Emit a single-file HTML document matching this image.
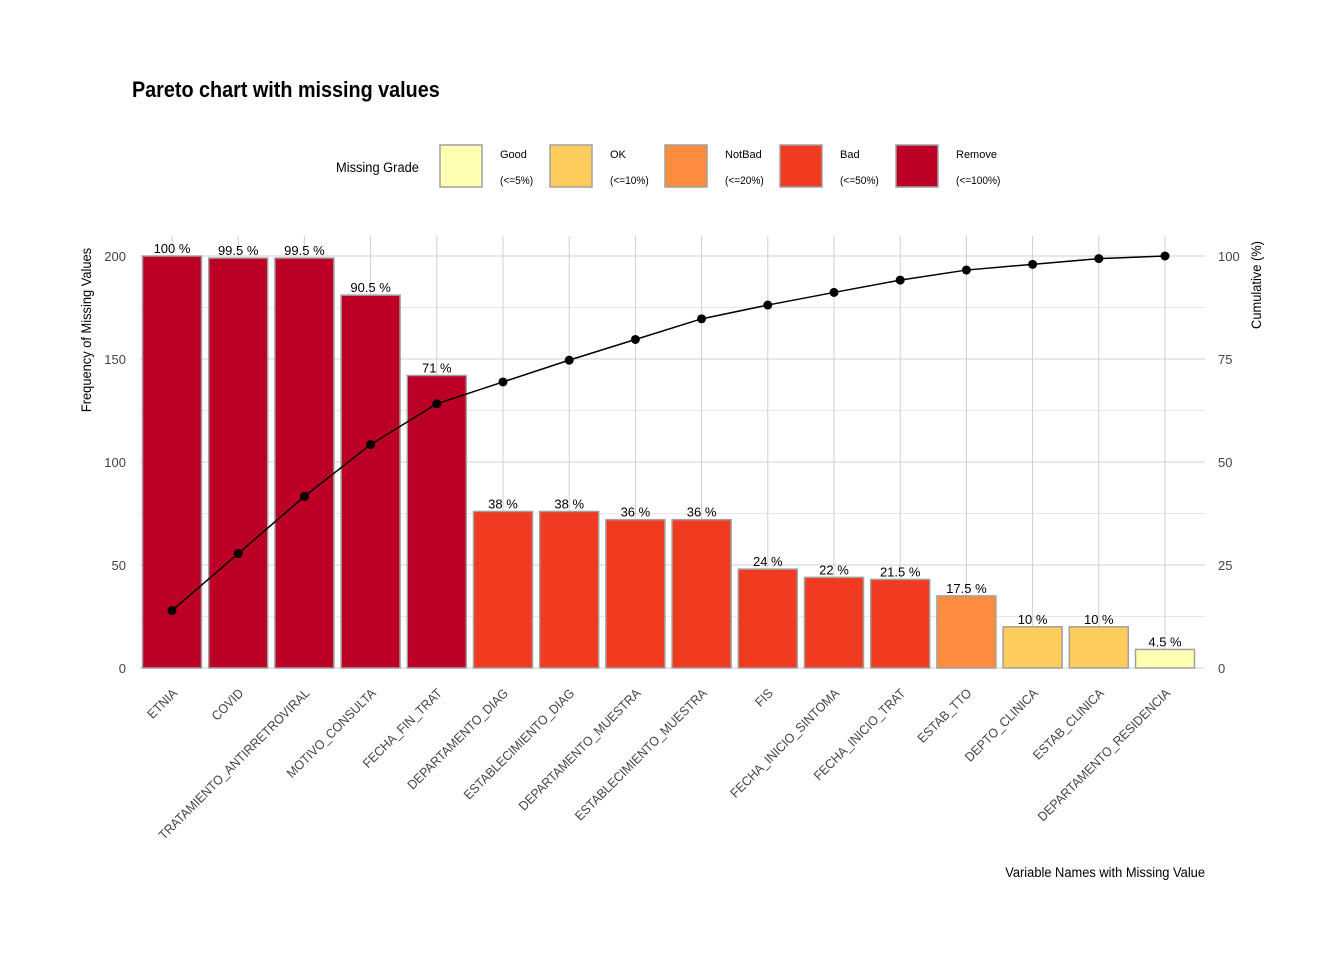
<!DOCTYPE html>
<html><head><meta charset="utf-8">
<style>
body{margin:0;background:#fff;}
svg{font-family:"Liberation Sans",sans-serif;}
</style></head>
<body>
<svg id="chart" width="1344" height="960" viewBox="0 0 1344 960" xmlns="http://www.w3.org/2000/svg">
<rect width="1344" height="960" fill="#fff"/>
<text x="132" y="97" font-size="22" font-weight="bold" fill="#000" transform="translate(132 0) scale(0.9 1) translate(-132 0)">Pareto chart with missing values</text>
<g id="legend"></g>
<g id="grid"></g>
<g id="bars"></g>
<g id="line"></g>
<g id="axes"></g>
<text transform="translate(91 330) rotate(-90) scale(0.92 1)" text-anchor="middle" font-size="14" fill="#000">Frequency of Missing Values</text>
<text transform="translate(1261 285) rotate(-90) scale(0.92 1)" text-anchor="middle" font-size="14" fill="#000">Cumulative (%)</text>
<text x="1205" y="877" text-anchor="end" font-size="14" fill="#000" transform="translate(1205 0) scale(0.92 1) translate(-1205 0)">Variable Names with Missing Value</text>
</svg>
<script>
const categories=["ETNIA","COVID","TRATAMIENTO_ANTIRRETROVIRAL","MOTIVO_CONSULTA","FECHA_FIN_TRAT","DEPARTAMENTO_DIAG","ESTABLECIMIENTO_DIAG","DEPARTAMENTO_MUESTRA","ESTABLECIMIENTO_MUESTRA","FIS","FECHA_INICIO_SINTOMA","FECHA_INICIO_TRAT","ESTAB_TTO","DEPTO_CLINICA","ESTAB_CLINICA","DEPARTAMENTO_RESIDENCIA"];
const missingCounts=[200,199,199,181,142,76,76,72,72,48,44,43,35,20,20,9];
const barLabels=["100 %","99.5 %","99.5 %","90.5 %","71 %","38 %","38 %","36 %","36 %","24 %","22 %","21.5 %","17.5 %","10 %","10 %","4.5 %"];
const leftTicks=[0,50,100,150,200];
const rightTicks=[0,25,50,75,100];
const gradeNames=["Good","OK","NotBad","Bad","Remove"];
const gradeRanges=["(<=5%)","(<=10%)","(<=20%)","(<=50%)","(<=100%)"];
const gradeColors=["#FFFFB2","#FECC5C","#FD8D3C","#F03B20","#BD0026"];
const gradeLimits=[5,10,20,50,100];

const NS="http://www.w3.org/2000/svg";
function mk(parent,tag,attrs,text){const e=document.createElementNS(NS,tag);for(const k in attrs)e.setAttribute(k,attrs[k]);if(text!==undefined)e.textContent=text;parent.appendChild(e);return e;}
const x0=172,step=66.2,bw=59,panelL=140,panelR=1205,yBase=668,yTop=256;
const xPos=i=>x0+i*step;
const yL=v=>yBase-v/200*(yBase-yTop);
const yR=v=>yBase-v/100*(yBase-yTop);
const total=missingCounts.reduce((a,b)=>a+b,0);

const grid=document.getElementById('grid');
for(let v=0;v<=200;v+=25){const l=mk(grid,'line',{x1:panelL,x2:panelR,y1:yL(v),y2:yL(v),stroke:'#d0d0d0','stroke-width':v%50===0?1:0.6});
}
categories.forEach((c,i)=>{const l=mk(grid,'line',{x1:xPos(i),x2:xPos(i),y1:236,y2:yBase,stroke:'#d0d0d0','stroke-width':1});
});

const bars=document.getElementById('bars');
categories.forEach((c,i)=>{const v=missingCounts[i];const pct=v/200*100;let g=gradeLimits.findIndex(t=>pct<=t);if(g<0)g=4;
const r=mk(bars,'rect',{x:xPos(i)-bw/2,y:yL(v),width:bw,height:yBase-yL(v),fill:gradeColors[g],stroke:'#a0a0a0','stroke-width':1.5});

const t=mk(bars,'text',{x:xPos(i),y:yL(v)-3,'text-anchor':'middle','font-size':13,fill:'#000'},barLabels[i]);
});

const line=document.getElementById('line');
let cum=0;const pts=missingCounts.map((v,i)=>{cum+=v;return [xPos(i),yR(cum/total*100)];});
const p=mk(line,'polyline',{points:pts.map(q=>q.join(',')).join(' '),fill:'none',stroke:'#000','stroke-width':1.5});

pts.forEach(q=>{const c=mk(line,'circle',{cx:q[0],cy:q[1],r:4.5,fill:'#000'});
});

const axes=document.getElementById('axes');
leftTicks.forEach(v=>{const t=mk(axes,'text',{x:126,y:yL(v)+5,'text-anchor':'end','font-size':13,fill:'#444'},v);
});
rightTicks.forEach(v=>{const t=mk(axes,'text',{x:1218,y:yR(v)+5,'font-size':13,fill:'#444'},v);
});
categories.forEach((c,i)=>{const x=xPos(i)+6,y=694;const t=mk(axes,'text',{x:0,y:0,'text-anchor':'end','font-size':13,fill:'#444',transform:`translate(${x} ${y}) rotate(-45) scale(0.94 1)`},c);
});

const legend=document.getElementById('legend');
const lt=mk(legend,'text',{x:336,y:172,'font-size':14,fill:'#000',transform:'translate(336 0) scale(0.92 1) translate(-336 0)'},'Missing Grade');

const lx=[440,550,665,780,896];
gradeNames.forEach((g,i)=>{const r=mk(legend,'rect',{x:lx[i],y:145,width:42,height:42,fill:gradeColors[i],stroke:'#a0a0a0','stroke-width':1.5});

const t1=mk(legend,'text',{x:lx[i]+60,y:158,'font-size':11,fill:'#000'},g);

const t2=mk(legend,'text',{x:lx[i]+60,y:184,'font-size':11,fill:'#000',transform:`translate(${lx[i]+60} 0) scale(0.92 1) translate(${-(lx[i]+60)} 0)`},gradeRanges[i]);
});
</script>
</body></html>
